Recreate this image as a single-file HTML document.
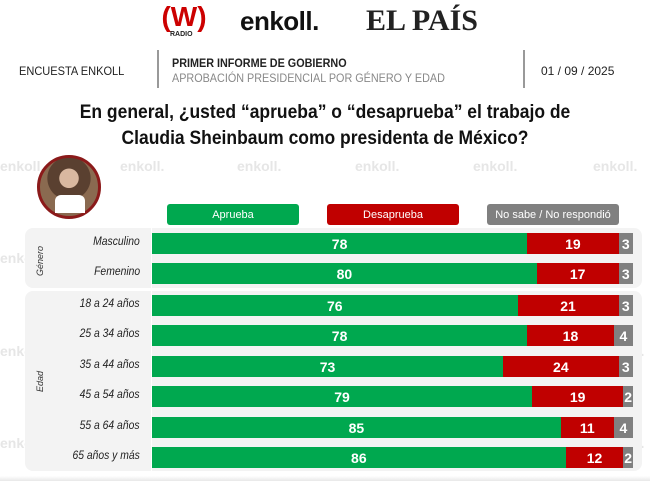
<!DOCTYPE html>
<html><head><meta charset="utf-8"><style>
*{margin:0;padding:0;box-sizing:border-box}
body{width:650px;height:481px;background:#fff;position:relative;overflow:hidden;font-family:"Liberation Sans",sans-serif}
.a{position:absolute}
.wm{position:absolute;color:#e6e6e6;font-weight:bold;font-size:14px}
.panel{position:absolute;left:25px;width:617px;background:#f3f3f3;border-radius:8px}
.lab{position:absolute;right:510px;font-style:italic;font-size:11.5px;color:#222;text-align:right;white-space:nowrap;transform:scaleX(0.9);transform-origin:right}
.row{position:absolute;left:152px;width:481px;height:21px;display:flex}
.row div{height:100%;color:#fff;font-weight:bold;font-size:14px;display:flex;align-items:center;justify-content:center}
.g{background:#00a84f}.r{background:#c00000}.n{background:#808080}
.leg{position:absolute;top:204px;height:21px;border-radius:3px;color:#fff;font-size:11px;display:flex;align-items:center;justify-content:center}
</style></head><body>
<div class="wm" style="left:0;top:158px">enkoll.</div><div class="wm" style="left:120px;top:158px">enkoll.</div><div class="wm" style="left:237px;top:158px">enkoll.</div><div class="wm" style="left:355px;top:158px">enkoll.</div><div class="wm" style="left:473px;top:158px">enkoll.</div><div class="wm" style="left:593px;top:158px">enkoll.</div>
<div class="wm" style="left:0;top:250px">enkoll.</div><div class="wm" style="left:0;top:343px">enkoll.</div><div class="wm" style="left:0;top:435px">enkoll.</div>
<div class="wm" style="left:600px;top:343px">enkoll.</div><div class="wm" style="left:600px;top:435px">enkoll.</div>

<div class="a" style="left:160px;top:2px;width:48px;text-align:center;color:#c00;font-weight:900;font-size:28px;line-height:30px">(W)</div>
<div class="a" style="left:170px;top:31px;font-size:7px;font-weight:bold;color:#222">RADIO</div>
<div class="a" style="left:240px;top:6px;font-size:26px;font-weight:bold;color:#111;letter-spacing:-0.5px">enkoll.</div>
<div class="a" style="left:366px;top:4px;font-family:'Liberation Serif',serif;font-size:30px;font-weight:bold;color:#222">EL PAÍS</div>

<div class="a" style="left:19px;top:64px;font-size:12px;color:#222;transform:scaleX(0.92);transform-origin:left">ENCUESTA ENKOLL</div>
<div class="a" style="left:157px;top:50px;width:2px;height:38px;background:#999"></div>
<div class="a" style="left:172px;top:56px;font-size:12px;font-weight:bold;color:#222;transform:scaleX(0.9);transform-origin:left">PRIMER INFORME DE GOBIERNO</div>
<div class="a" style="left:172px;top:71px;font-size:12px;color:#888;transform:scaleX(0.9);transform-origin:left;white-space:nowrap">APROBACIÓN PRESIDENCIAL POR GÉNERO Y EDAD</div>
<div class="a" style="left:523px;top:50px;width:2px;height:38px;background:#999"></div>
<div class="a" style="left:541px;top:64px;font-size:12px;color:#222">01 / 09 / 2025</div>

<div class="a" style="left:0;top:100px;width:650px;text-align:center;font-size:19px;font-weight:bold;color:#111;line-height:26px;transform:scaleX(0.92)">En general, ¿usted “aprueba” o “desaprueba” el trabajo de<br>Claudia Sheinbaum como presidenta de México?</div>

<div class="a" style="left:37px;top:155px;width:64px;height:64px;border-radius:50%;background:radial-gradient(circle at 50% 35%,#d9b8a0 0 20%,#5a4030 21% 45%,#8a6a50 46%);border:3px solid #8b1a1a"></div>
<div class="a" style="left:55px;top:195px;width:30px;height:18px;background:#fff;border-radius:6px 6px 0 0"></div>

<div class="leg g" style="left:167px;width:132px">Aprueba</div>
<div class="leg r" style="left:327px;width:132px">Desaprueba</div>
<div class="leg n" style="left:487px;width:132px">No sabe / No respondió</div>

<div class="panel" style="top:228px;height:60px"></div>
<div class="panel" style="top:291px;height:180px"></div>
<div class="a" style="left:151px;top:228px;width:1px;height:243px;background:#fff"></div>
<div class="a" style="left:35px;top:258px;font-size:9px;font-style:italic;color:#333;transform:rotate(-90deg);transform-origin:left top;width:40px;top:276px">Género</div>
<div class="a" style="left:35px;top:392px;font-size:9px;font-style:italic;color:#333;transform:rotate(-90deg);transform-origin:left top">Edad</div>

<div class="lab" style="top:236px">Masculino</div>
<div class="row" style="top:233px"><div class="g" style="width:78%">78</div><div class="r" style="width:19%">19</div><div class="n" style="width:3%">3</div></div>
<div class="lab" style="top:266px">Femenino</div>
<div class="row" style="top:263px"><div class="g" style="width:80%">80</div><div class="r" style="width:17%">17</div><div class="n" style="width:3%">3</div></div>

<div class="lab" style="top:298px">18 a 24 años</div>
<div class="row" style="top:295px"><div class="g" style="width:76%">76</div><div class="r" style="width:21%">21</div><div class="n" style="width:3%">3</div></div>
<div class="lab" style="top:328px">25 a 34 años</div>
<div class="row" style="top:325px"><div class="g" style="width:78%">78</div><div class="r" style="width:18%">18</div><div class="n" style="width:4%">4</div></div>
<div class="lab" style="top:359px">35 a 44 años</div>
<div class="row" style="top:356px"><div class="g" style="width:73%">73</div><div class="r" style="width:24%">24</div><div class="n" style="width:3%">3</div></div>
<div class="lab" style="top:389px">45 a 54 años</div>
<div class="row" style="top:386px"><div class="g" style="width:79%">79</div><div class="r" style="width:19%">19</div><div class="n" style="width:2%">2</div></div>
<div class="lab" style="top:420px">55 a 64 años</div>
<div class="row" style="top:417px"><div class="g" style="width:85%">85</div><div class="r" style="width:11%">11</div><div class="n" style="width:4%">4</div></div>
<div class="lab" style="top:450px">65 años y más</div>
<div class="row" style="top:447px"><div class="g" style="width:86%">86</div><div class="r" style="width:12%">12</div><div class="n" style="width:2%">2</div></div>
<div class="a" style="left:0;top:476px;width:650px;height:5px;background:linear-gradient(#fff,#e8e8e8)"></div>
</body></html>
